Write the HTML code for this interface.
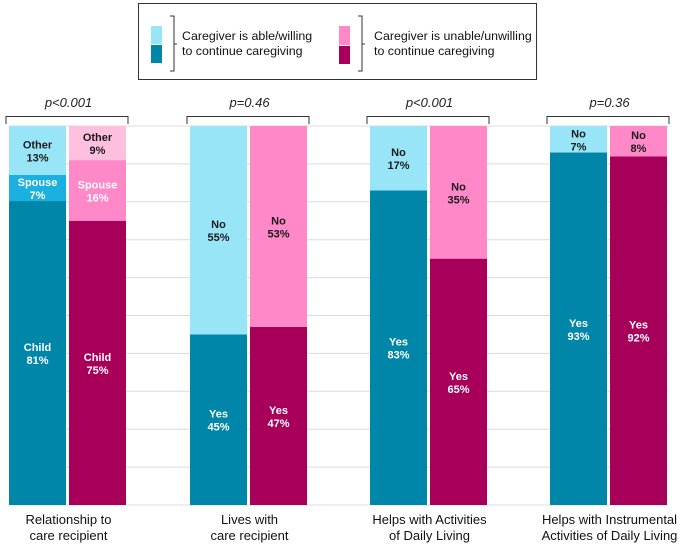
<!DOCTYPE html>
<html><head><meta charset="utf-8"><style>
body{margin:0;background:#fff;}
svg{display:block;font-family:"Liberation Sans",Arial,sans-serif;}
</style></head><body>
<svg id="chart" width="680" height="546">
<g id="legend">
<rect x="138.5" y="3.5" width="398" height="76" fill="#fff" stroke="#333" stroke-width="1"/>
<rect x="151" y="26" width="11" height="18" fill="#99e5f8"/>
<rect x="151" y="45" width="11" height="18" fill="#0086a8"/>
<path d="M170,16 h4 v28 l3,0 l-3,0 v27 h-4" fill="none" stroke="#333" stroke-width="1"/>
<text x="182" y="40" font-size="12.4" fill="#111">Caregiver is able/willing</text>
<text x="182" y="55" font-size="12.4" fill="#111">to continue caregiving</text>
<rect x="339" y="26" width="11" height="19" fill="#ff88c8"/>
<rect x="339" y="46" width="11" height="18" fill="#a8005a"/>
<path d="M358,16 h4 v28 l3,0 l-3,0 v27 h-4" fill="none" stroke="#333" stroke-width="1"/>
<text x="374" y="40" font-size="12.4" fill="#111">Caregiver is unable/unwilling</text>
<text x="374" y="55" font-size="12.4" fill="#111">to continue caregiving</text>
</g>
<g id="grid"></g><g id="bars"></g><g id="anno"></g>
</svg>
<script>
const categories = ["Relationship to|care recipient","Lives with|care recipient","Helps with Activities|of Daily Living","Helps with Instrumental|Activities of Daily Living"];
const pValues = ["p<0.001","p=0.46","p<0.001","p=0.36"];
const segLabels = [["Child","Spouse","Other"],["Yes","No"],["Yes","No"],["Yes","No"]];
const ableValues = [[81,7,13],[45,55],[83,17],[93,7]];
const unableValues = [[75,16,9],[47,53],[65,35],[92,8]];

const NS="http://www.w3.org/2000/svg";
const top0=126, bot=505, H=bot-top0;
const groupX=[9,190,370,550], bw=57, gap=3;
function y(v){return bot - v/100*H;}
function el(tag,attrs,parent){const e=document.createElementNS(NS,tag);for(const k in attrs)e.setAttribute(k,attrs[k]);parent.appendChild(e);return e;}
const grid=document.getElementById('grid'),bars=document.getElementById('bars'),anno=document.getElementById('anno');
for(let t=0;t<=100;t+=10){
  const l=el('line',{x1:9,x2:668,y1:y(t),y2:y(t),stroke:'#dcdcdc','stroke-width':1},grid);
  
  
}
const ableCols=["#0086a8","#1ab0e0","#99e5f8"], unableCols=["#a8005a","#ff88c8","#ffc0e0"];
function drawBar(vals,x,cols,gi,kind){
  const sum=vals.reduce((a,b)=>a+b,0); let acc=0;
  vals.forEach((v,i)=>{
    const y1=y((acc+v)/sum*100), y0=y(acc/sum*100); acc+=v;
    let col = vals.length===2 ? (i===0?cols[0]:(kind==='able'?cols[2]:cols[1])) : cols[i];
    const r=el('rect',{x:x,y:y1,width:bw,height:y0-y1,fill:col},bars);
    
    
    const light = col==="#99e5f8"||col==="#ffc0e0"||(col==="#ff88c8"&&vals.length===2);
    const tc = light?"#1a1a1a":"#fff";
    const cy=(y0+y1)/2;
    const t1=el('text',{x:x+bw/2,y:cy-2,'text-anchor':'middle','font-size':11,'font-weight':'bold',fill:tc},bars);
    t1.textContent=segLabels[gi][i];
    
    
    const t2=el('text',{x:x+bw/2,y:cy+11,'text-anchor':'middle','font-size':11,'font-weight':'bold',fill:tc},bars);
    t2.textContent=v+'%';
    
    
  });
}
categories.forEach((c,gi)=>{
  const gx=groupX[gi];
  drawBar(ableValues[gi],gx,ableCols,gi,'able');
  drawBar(unableValues[gi],gx+bw+gap,unableCols,gi,'unable');
  const bx1=gx, bx2=gx+2*bw+gap+2;
  const b=el('path',{d:`M${bx1-3},124 V116.5 H${bx2} V124`,fill:'none',stroke:'#333','stroke-width':1},anno);
  
  
  const p=el('text',{x:(bx1+bx2)/2,y:107,'text-anchor':'middle','font-size':13,'font-style':'italic',fill:'#222'},anno);
  p.textContent=pValues[gi];
  
  
  const lines=c.split('|');
  lines.forEach((ln,li)=>{
    const t=el('text',{x:(bx1+bx2)/2,y:524+li*16,'text-anchor':'middle','font-size':13,fill:'#111'},anno);
    t.textContent=ln;
    
    
  });
});
</script>
</body></html>
